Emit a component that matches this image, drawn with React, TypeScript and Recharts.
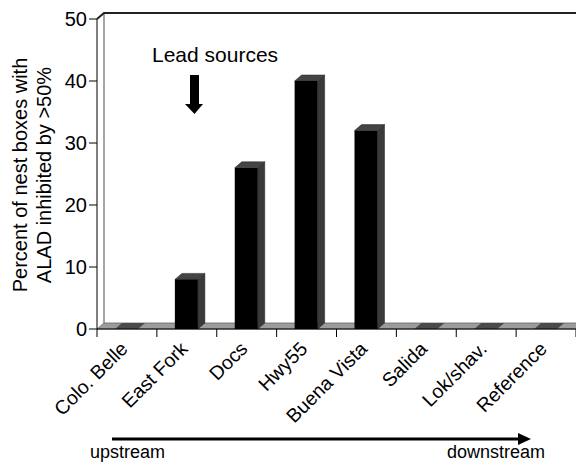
import React from "react"
import { BarChart, Bar, XAxis, YAxis, Customized } from "recharts"

const sites = ["Colo. Belle", "East Fork", "Docs", "Hwy55", "Buena Vista", "Salida", "Lok/shav.", "Reference"]
const percentInhibited = [0, 8, 26, 40, 32, 0, 0, 0]
const yTicks = [0, 10, 20, 30, 40, 50]

const data = sites.map((site, i) => ({ site, value: percentInhibited[i] }))

const W = 576
const H = 464
const AXIS_W = 97
const X_AXIS_H = 40
const margin = { top: 19, right: 0, left: 0, bottom: 95 }
const plotLeft = margin.left + AXIS_W
const plotRight = W - margin.right
const plotTop = margin.top
const plotBottom = H - margin.bottom - X_AXIS_H
const DX = 7
const DY = 6
const FONT = "'Liberation Sans', Arial, Helvetica, sans-serif"

function Bar3D(props: any) {
  const { x, y, width, height } = props
  if (!height || height < 0.5) {
    const yb = y + (height || 0)
    return (
      <polygon
        points={`${x},${yb} ${x + width},${yb} ${x + width + DX},${yb - DY} ${x + DX},${yb - DY}`}
        fill="#4a4a4a"
      />
    )
  }
  return (
    <g>
      <polygon
        points={`${x + width},${y} ${x + width + DX},${y - DY} ${x + width + DX},${y + height - DY} ${x + width},${y + height}`}
        fill="#3a3a3a"
        stroke="#222"
        strokeWidth={0.5}
      />
      <polygon
        points={`${x},${y} ${x + DX},${y - DY} ${x + width + DX},${y - DY} ${x + width},${y}`}
        fill="#444"
        stroke="#222"
        strokeWidth={0.5}
      />
      <rect x={x} y={y} width={width} height={height} fill="#000" />
    </g>
  )
}

function Floor() {
  return (
    <g>
      <line x1={plotLeft + DX} y1={plotTop - DY} x2={plotLeft + DX} y2={plotBottom - DY} stroke="#888" strokeWidth={1.5} />
      <polyline
        points={`${plotLeft},${plotTop} ${plotLeft + DX},${plotTop - DY} ${plotRight},${plotTop - DY}`}
        fill="none"
        stroke="#222"
        strokeWidth={2}
      />
      <polygon
        points={`${plotLeft},${plotBottom} ${plotRight},${plotBottom} ${plotRight + DX},${plotBottom - DY} ${plotLeft + DX},${plotBottom - DY}`}
        fill="#9c9c9c"
        stroke="#666"
        strokeWidth={0.8}
      />
    </g>
  )
}

function Notes() {
  return (
    <g fontFamily={FONT} fill="#000">
      <text x={152} y={62} fontSize={21}>Lead sources</text>
      <rect x={190} y={75} width={9} height={30} fill="#000" />
      <polygon points="185,104 203,104 194.5,114" fill="#000" />
      <text transform="translate(27,175) rotate(-90)" textAnchor="middle" fontSize={20}>
        Percent of nest boxes with
      </text>
      <text transform="translate(51,175) rotate(-90)" textAnchor="middle" fontSize={20}>
        ALAD inhibited by &gt;50%
      </text>
      <line x1={112} y1={439} x2={520} y2={439} stroke="#000" strokeWidth={3} />
      <polygon points="518,433 531,439 518,445" fill="#000" />
      <text x={90} y={458} fontSize={18}>upstream</text>
      <text x={447} y={458} fontSize={18}>downstream</text>
    </g>
  )
}

function SiteTick(props: any) {
  const { x, payload, index } = props
  const y = plotBottom
  const half = payload && payload.offset ? payload.offset : (plotRight - plotLeft) / sites.length / 2
  return (
    <g>
      <line x1={x - half} y1={y} x2={x - half} y2={y + 8} stroke="#000" />
      {index === sites.length - 1 && <line x1={x + half} y1={y} x2={x + half} y2={y + 8} stroke="#000" />}
      <text
        transform={`translate(${x + 2},${y + 21}) rotate(-45)`}
        textAnchor="end"
        fontFamily={FONT}
        fontSize={19.5}
        fill="#000"
      >
        {payload.value}
      </text>
    </g>
  )
}

export default function App() {
  return (
    <div style={{ width: W, height: H }}>
      <style>{"body{margin:0}"}</style>
      <BarChart width={W} height={H} data={data} margin={margin} barSize={23}>
        <Customized component={Floor} />
        <XAxis
          dataKey="site"
          height={X_AXIS_H}
          interval={0}
          axisLine={{ stroke: "#000" }}
          tickLine={false}
          tick={<SiteTick />}
          tickSize={8}
        />
        <YAxis
          width={AXIS_W}
          domain={[0, 50]}
          ticks={yTicks}
          axisLine={{ stroke: "#000" }}
          tickLine={{ stroke: "#000" }}
          tickSize={8}
          tick={{ fill: "#000", fontSize: 20, fontFamily: FONT }}
        />
        <Bar dataKey="value" shape={<Bar3D />} isAnimationActive={false} />
        <Customized component={Notes} />
      </BarChart>
    </div>
  )
}
